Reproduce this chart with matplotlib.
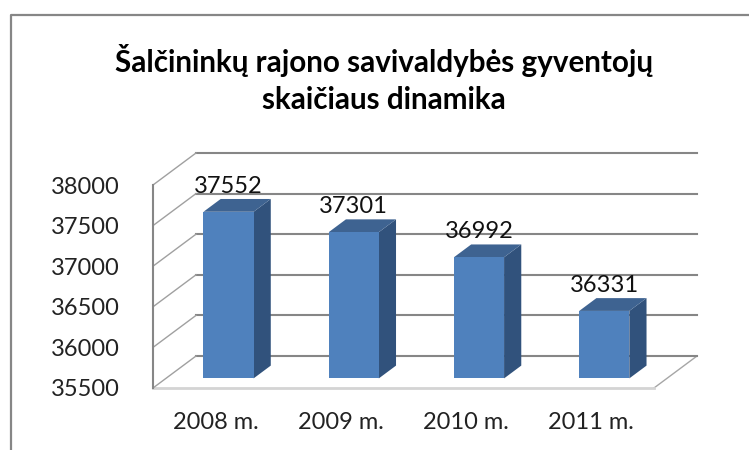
import matplotlib
matplotlib.use("Agg")
import matplotlib.pyplot as plt
from matplotlib.lines import Line2D
from matplotlib.patches import Polygon

plt.rcParams['font.family'] = ['Lato', 'DejaVu Sans']

# Duomenys
metai = ["2008 m.", "2009 m.", "2010 m.", "2011 m."]
gyventojai = [37552, 37301, 36992, 36331]
y_ticks = [35500, 36000, 36500, 37000, 37500, 38000]
pavadinimas = "Šalčininkų rajono savivaldybės gyventojų\nskaičiaus dinamika"

W, H = 749, 450
fig = plt.figure(figsize=(W / 100, H / 100), dpi=100, facecolor="white")

# front plane of the 3D box, in pixels of the picture
left, right, top, bottom = 153, 654, 185, 388
ax = fig.add_axes([left / W, 1 - bottom / H, (right - left) / W, (bottom - top) / H])
ax.set_xlim(-0.5, 3.5)
ax.set_ylim(y_ticks[0], y_ticks[-1])
ax.patch.set_visible(False)
for s in ax.spines.values():
    s.set_visible(False)

# oblique projection: depth 1 is the back wall
DX = 43 / ((right - left) / 4)
DY = 32 / ((bottom - top) / (y_ticks[-1] - y_ticks[0]))


def proj(x, y, d):
    return (x + d * DX, y + d * DY)


GRID = "#868686"
x0, x1 = ax.get_xlim()
y0 = y_ticks[0]

# floor
ax.add_patch(Polygon([proj(x0, y0, 0), proj(x1, y0, 0), proj(x1, y0, 1), proj(x0, y0, 1)],
                     closed=True, fc="white", ec="none", clip_on=False, zorder=1))
ax.plot(*zip(proj(x1, y0, 0), proj(x1, y0, 1)), color="#a6a6a6", lw=1, clip_on=False, zorder=1.5)
ax.plot(*zip(proj(x0, y0, 0), proj(x1, y0, 0)), color="#d4d4d4", lw=2, clip_on=False, zorder=1.5)

# gridlines on the back wall and left wall
for t in y_ticks:
    ax.plot(*zip(proj(x0, t, 1), proj(x1, t, 1)), color=GRID, lw=1.5, clip_on=False, zorder=2)
    ax.plot(*zip(proj(x0, t, 0), proj(x0, t, 1)), color="#a0a0a0", lw=1, clip_on=False, zorder=2)
ax.plot([x0, x0], [y_ticks[0], y_ticks[-1]], color=GRID, lw=1.5, clip_on=False, zorder=3)

# bars
half = 0.2
d1, d2 = 0.3, 0.7
for i, v in enumerate(gyventojai):
    a, b = i - half, i + half
    ax.add_patch(Polygon([proj(b, y0, d1), proj(b, y0, d2), proj(b, v, d2), proj(b, v, d1)],
                         closed=True, fc="#31527C", ec="none", clip_on=False, zorder=4))
    ax.add_patch(Polygon([proj(a, v, d1), proj(b, v, d1), proj(b, v, d2), proj(a, v, d2)],
                         closed=True, fc="#3E6391", ec="none", clip_on=False, zorder=4))
    ax.add_patch(Polygon([proj(a, y0, d1), proj(b, y0, d1), proj(b, v, d1), proj(a, v, d1)],
                         closed=True, fc="#4F81BD", ec="none", clip_on=False, zorder=5))
    ax.annotate(str(v), proj(i, v, d1), xytext=(0, 18.5), textcoords="offset points",
                ha="center", va="center", fontsize=17, color="#111111", zorder=6)

ax.set_xticks(range(len(metai)))
ax.set_xticklabels(metai, fontsize=17, color="#222222")
ax.set_yticks(y_ticks)
ax.set_yticklabels([str(t) for t in y_ticks], fontsize=17, color="#222222")
ax.tick_params(axis="both", length=0)
ax.tick_params(axis="x", pad=17)
ax.tick_params(axis="y", pad=24)

fig.text(384 / W, 1 - 79 / H, pavadinimas, ha="center", va="center", fontsize=21.3,
         fontweight="bold", color="black", linespacing=1.42)

# outer frame, only top and left are visible
fig.add_artist(Line2D([11 / W, 11 / W, 1], [0, 1 - 15 / H, 1 - 15 / H], color=GRID, lw=1.6))

fig.savefig("out.png", dpi=100)
